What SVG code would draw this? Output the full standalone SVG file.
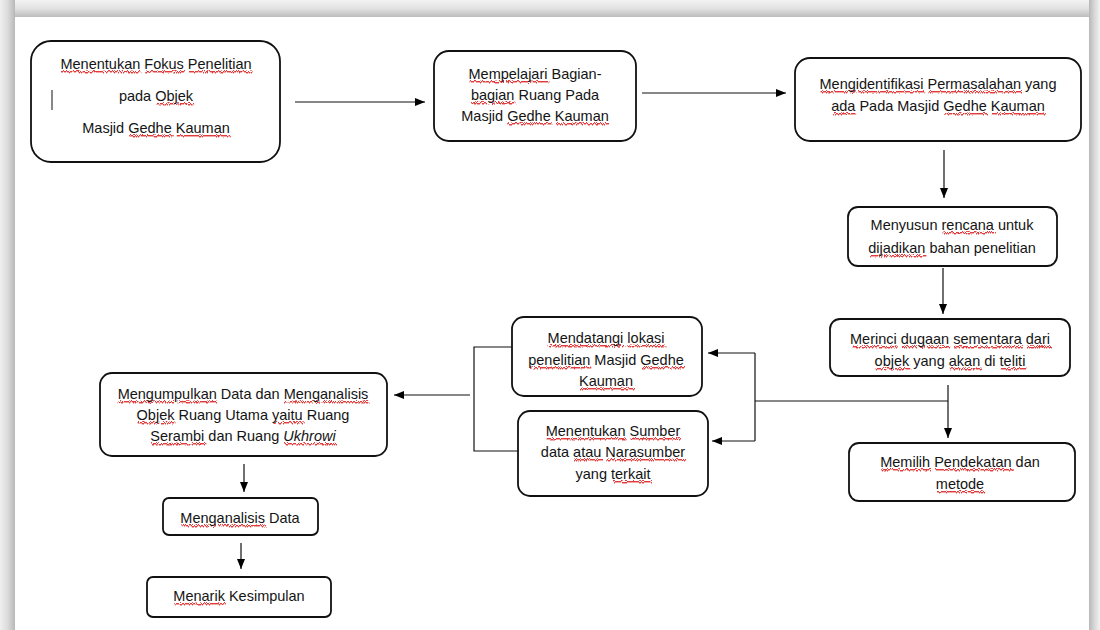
<svg xmlns="http://www.w3.org/2000/svg" xmlns:xlink="http://www.w3.org/1999/xlink" width="1100" height="630" viewBox="0 0 1100 630">
<defs>
<linearGradient id="gTop" x1="0" y1="0" x2="0" y2="1"><stop offset="0" stop-color="#f3f3f3"/><stop offset="0.5" stop-color="#e2e2e2"/><stop offset="1" stop-color="#bcbcbc"/></linearGradient>
<linearGradient id="gLeft" x1="0" y1="0" x2="1" y2="0"><stop offset="0" stop-color="#f0f0f0"/><stop offset="0.5" stop-color="#dcdcdc"/><stop offset="1" stop-color="#b8b8b8"/></linearGradient>
<linearGradient id="gRight" x1="0" y1="0" x2="1" y2="0"><stop offset="0" stop-color="#b8b8b8"/><stop offset="0.5" stop-color="#d8d8d8"/><stop offset="1" stop-color="#f2f2f2"/></linearGradient>
<marker id="ah" viewBox="0 0 10 10" refX="10" refY="5" markerWidth="10" markerHeight="10" markerUnits="userSpaceOnUse" orient="auto"><path d="M0,1 L10,5 L0,9 Z" fill="#000"/></marker>
<filter id="wave" x="-5%" y="-5%" width="110%" height="110%">
<feTurbulence type="turbulence" baseFrequency="0.7 0.02" numOctaves="1" seed="3" result="n"/>
<feDisplacementMap in="SourceGraphic" in2="n" scale="3.5" xChannelSelector="R" yChannelSelector="G"/>
</filter>
<clipPath id="bands">
<rect x="60" y="70" width="216" height="5"/><rect x="35" y="102" width="241" height="5"/><rect x="35" y="134" width="241" height="5"/>
<rect x="438" y="80" width="194" height="5"/><rect x="438" y="101" width="194" height="5"/><rect x="438" y="122" width="194" height="5"/>
<rect x="800" y="90" width="277" height="5"/><rect x="800" y="112" width="277" height="5"/>
<rect x="852" y="231" width="201" height="5"/><rect x="852" y="254" width="201" height="5"/>
<rect x="834" y="345" width="232" height="5"/><rect x="834" y="367" width="232" height="5"/>
<rect x="853" y="468" width="218" height="5"/><rect x="853" y="490" width="218" height="5"/>
<rect x="516" y="344" width="182" height="5"/><rect x="516" y="366" width="182" height="5"/><rect x="516" y="387" width="182" height="5"/>
<rect x="522" y="437" width="182" height="5"/><rect x="522" y="458" width="182" height="5"/><rect x="522" y="480" width="182" height="5"/>
<rect x="104" y="400" width="279" height="5"/><rect x="104" y="421" width="279" height="5"/><rect x="104" y="442" width="279" height="5"/>
<rect x="167" y="524" width="147" height="5"/>
<rect x="151" y="602" width="176" height="5"/>
</clipPath>
</defs>
<style>
.box{fill:none;stroke:var(--bs,#111);stroke-width:1.8}
.cur{stroke:var(--bs,#111);stroke-width:1}
.t{font-family:"Liberation Sans",Arial,sans-serif;font-size:14.5px;fill:var(--tf,#141414);text-anchor:middle}
.w{fill:var(--wf,#141414);text-decoration:var(--wd,none)}
.c{fill:none;stroke:#111;stroke-width:1.2}
.a{fill:none;stroke:#111;stroke-width:1.2;marker-end:url(#ah)}
.ul{--tf:transparent;--wf:#e23b3b;--wd:underline;--bs:none}
</style>
<rect width="1100" height="630" fill="#fff"/>
<rect x="0" y="0" width="1100" height="17" fill="url(#gTop)"/>
<rect x="0" y="0" width="15" height="630" fill="url(#gLeft)"/>
<rect x="1089" y="0" width="11" height="630" fill="url(#gRight)"/>
<rect x="15" y="17" width="1074" height="613" fill="#fff"/>

<g clip-path="url(#bands)"><use xlink:href="#nodes" href="#nodes" class="ul" filter="url(#wave)"/></g>

<g id="connectors">
<line class="a" x1="295" y1="102" x2="425" y2="102"/>
<line class="a" x1="642" y1="93" x2="786" y2="93"/>
<line class="a" x1="944" y1="150" x2="944" y2="198"/>
<line class="a" x1="943" y1="268" x2="943" y2="314"/>
<line class="a" x1="948" y1="385" x2="948" y2="438"/>
<polyline class="c" points="948,401 755,401"/>
<polyline class="c" points="755,353 755,441"/>
<line class="a" x1="755" y1="353" x2="708" y2="353"/>
<line class="a" x1="755" y1="441" x2="712" y2="441"/>
<polyline class="c" points="512,347 474,347 474,451 518,451"/>
<line class="a" x1="470" y1="395" x2="394" y2="395"/>
<line class="a" x1="244" y1="464" x2="244" y2="492"/>
<line class="a" x1="241" y1="543" x2="241" y2="569"/>
</g>

<g id="nodes">
<g id="n1">
<rect class="box" x="31" y="41" width="249" height="121" rx="20"/>
<line class="cur" x1="52" y1="90" x2="52" y2="110"/>
<text class="t" x="156" y="69"><tspan class="w">Menentukan</tspan> <tspan class="w">Fokus</tspan> <tspan class="w">Penelitian</tspan></text>
<text class="t" x="156" y="101">pada <tspan class="w">Objek</tspan></text>
<text class="t" x="156" y="133">Masjid <tspan class="w">Gedhe</tspan> <tspan class="w">Kauman</tspan></text>
</g>
<g id="n2">
<rect class="box" x="434" y="51" width="202" height="90" rx="15"/>
<text class="t" x="535" y="79"><tspan class="w">Mempelajari</tspan> Bagian-</text>
<text class="t" x="535" y="100"><tspan class="w">bagian</tspan> Ruang Pada</text>
<text class="t" x="535" y="121">Masjid <tspan class="w">Gedhe</tspan> <tspan class="w">Kauman</tspan></text>
</g>
<g id="n3">
<rect class="box" x="795" y="58" width="286" height="83" rx="15"/>
<text class="t" x="938" y="89"><tspan class="w">Mengidentifikasi</tspan> <tspan class="w">Permasalahan</tspan> yang</text>
<text class="t" x="938" y="111"><tspan class="w">ada</tspan> Pada Masjid <tspan class="w">Gedhe</tspan> <tspan class="w">Kauman</tspan></text>
</g>
<g id="n4">
<rect class="box" x="848" y="207" width="209" height="59" rx="10"/>
<text class="t" x="952" y="230">Menyusun <tspan class="w">rencana</tspan> untuk</text>
<text class="t" x="952" y="253"><tspan class="w">dijadikan</tspan> bahan penelitian</text>
</g>
<g id="n5">
<rect class="box" x="830" y="319" width="240" height="57" rx="10"/>
<text class="t" x="950" y="344"><tspan class="w">Merinci</tspan> <tspan class="w">dugaan</tspan> <tspan class="w">sementara</tspan> <tspan class="w">dari</tspan></text>
<text class="t" x="950" y="366"><tspan class="w">objek</tspan> yang <tspan class="w">akan</tspan> di <tspan class="w">teliti</tspan></text>
</g>
<g id="n6">
<rect class="box" x="849" y="443" width="226" height="58" rx="10"/>
<text class="t" x="960" y="467"><tspan class="w">Memilih</tspan> <tspan class="w">Pendekatan</tspan> dan</text>
<text class="t" x="960" y="489"><tspan class="w">metode</tspan></text>
</g>
<g id="n7">
<rect class="box" x="512" y="317" width="190" height="79" rx="12"/>
<text class="t" x="606" y="343"><tspan class="w">Mendatangi</tspan> <tspan class="w">lokasi</tspan></text>
<text class="t" x="606" y="365"><tspan class="w">penelitian</tspan> Masjid <tspan class="w">Gedhe</tspan></text>
<text class="t" x="606" y="386"><tspan class="w">Kauman</tspan></text>
</g>
<g id="n8">
<rect class="box" x="518" y="411" width="190" height="85" rx="12"/>
<text class="t" x="613" y="436"><tspan class="w">Menentukan</tspan> <tspan class="w">Sumber</tspan></text>
<text class="t" x="613" y="457">data <tspan class="w">atau</tspan> <tspan class="w">Narasumber</tspan></text>
<text class="t" x="613" y="479">yang <tspan class="w">terkait</tspan></text>
</g>
<g id="n9">
<rect class="box" x="100" y="373" width="287" height="83" rx="12"/>
<text class="t" x="243" y="399"><tspan class="w">Mengumpulkan</tspan> Data dan <tspan class="w">Menganalisis</tspan></text>
<text class="t" x="243" y="420"><tspan class="w">Objek</tspan> Ruang Utama <tspan class="w">yaitu</tspan> Ruang</text>
<text class="t" x="243" y="441"><tspan class="w">Serambi</tspan> dan Ruang <tspan class="w" font-style="italic">Ukhrowi</tspan></text>
</g>
<g id="n10">
<rect class="box" x="163" y="498" width="155" height="37" rx="6"/>
<text class="t" x="240" y="523"><tspan class="w">Menganalisis</tspan> Data</text>
</g>
<g id="n11">
<rect class="box" x="147" y="577" width="184" height="40" rx="6"/>
<text class="t" x="239" y="601"><tspan class="w">Menarik</tspan> Kesimpulan</text>
</g>
</g>
</svg>
